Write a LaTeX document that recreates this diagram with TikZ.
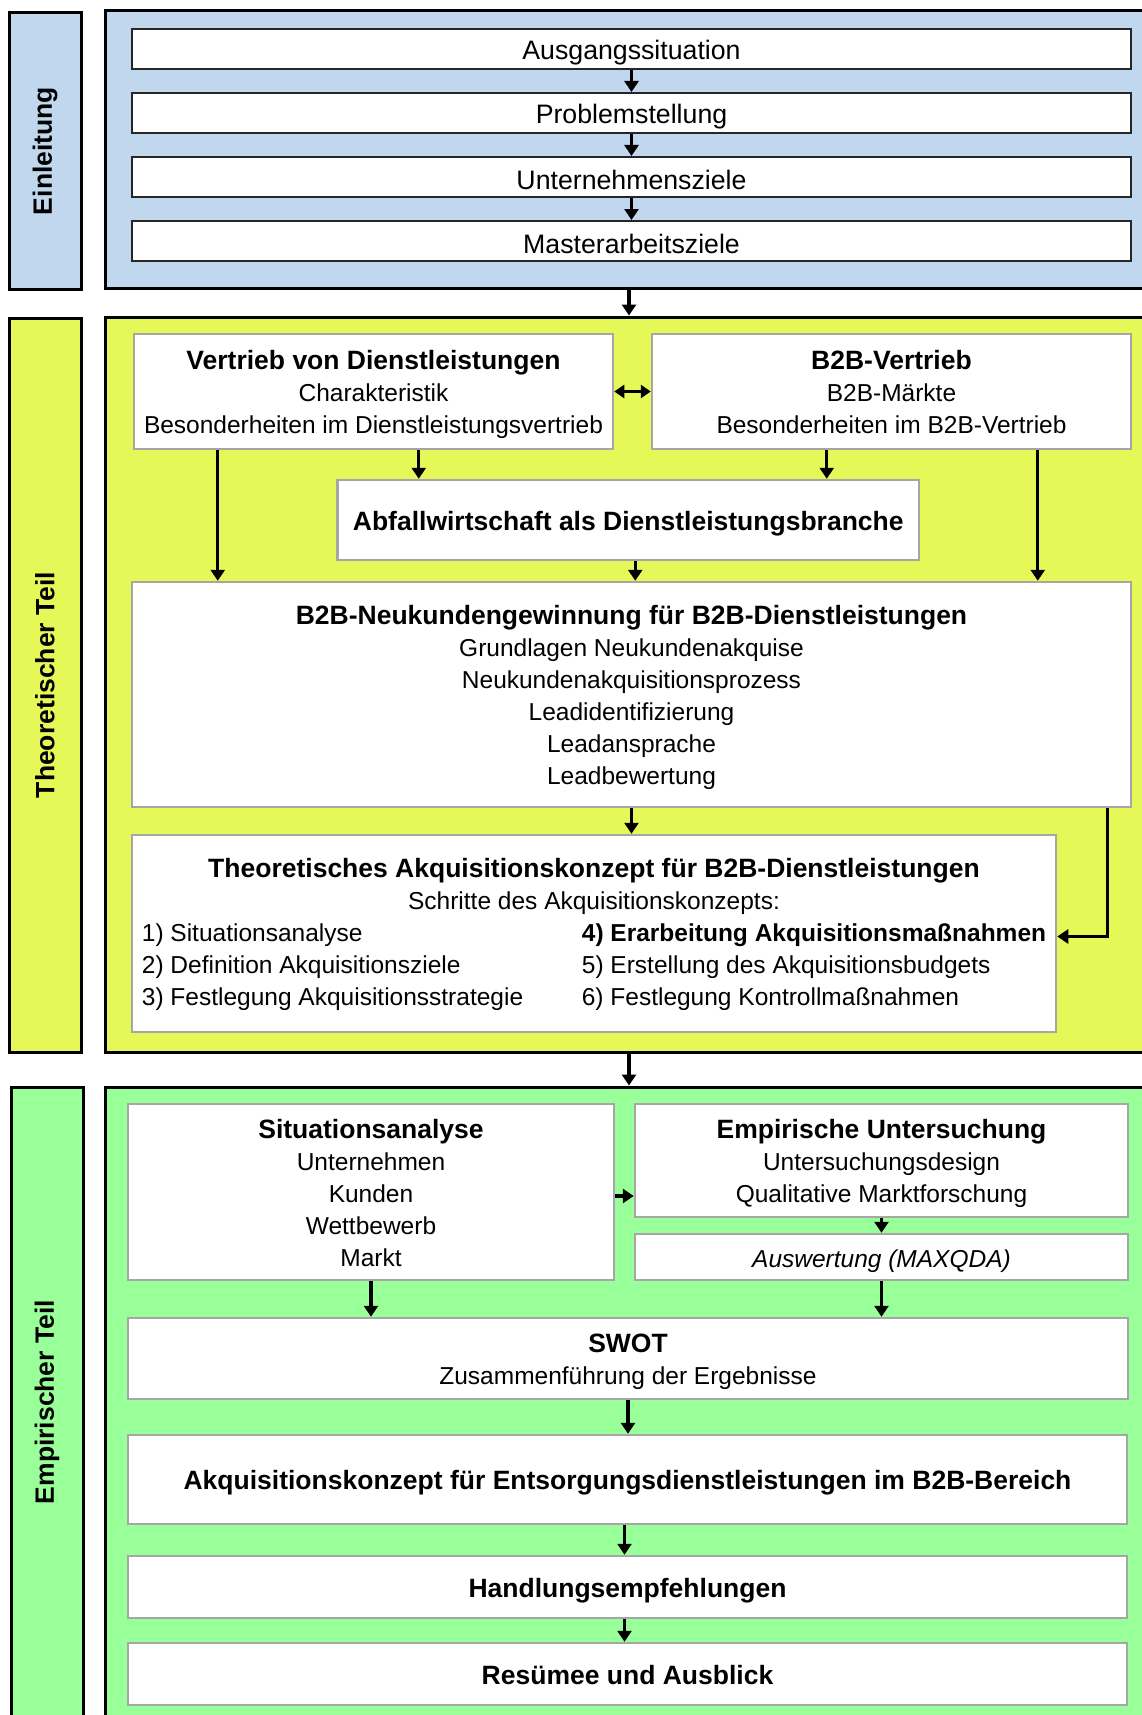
\documentclass[tikz,border=0pt]{standalone}
\usepackage{fontspec}
\setmainfont{Liberation Sans}
\usetikzlibrary{arrows.meta}

\definecolor{introblue}{RGB}{192,215,238}
\definecolor{theoyellow}{RGB}{230,247,88}
\definecolor{empgreen}{RGB}{153,255,153}
\definecolor{boxgray}{RGB}{166,166,166}

% invisible strut that lowers the text block a little inside its box
\newcommand{\lowerstrut}{\rule{0pt}{26pt}}
% invisible descender for last lines without one
\newcommand{\lowdepth}{\rule[-5.2pt]{0pt}{5.2pt}}
\newcommand{\boxtitle}[1]{{\lowerstrut\fontsize{26.5}{32}\selectfont\bfseries #1}}

\begin{document}
\begin{tikzpicture}[x=1pt,y=-1pt,
  frame/.style={draw=black, line width=3pt, inner sep=0pt},
  sidebox/.style={draw=black, line width=3pt, inner sep=0pt, rotate=90,
    font=\fontsize{26.5}{32}\selectfont\bfseries},
  introbox/.style={draw=black!85, line width=2pt, fill=white, inner sep=0pt,
    minimum width=999pt, minimum height=40pt,
    font=\fontsize{26.7}{32}\selectfont,
    execute at begin node=\lowerstrut},
  gbox/.style={draw=boxgray, line width=2.5pt, fill=white, inner sep=0pt,
    align=center, font=\fontsize{24.5}{32}\selectfont},
  arr/.style={line width=3.2pt, -{Triangle[length=11pt,width=14pt]}},
  twoway/.style={line width=3.2pt,
    {Triangle[length=10pt,width=13pt]}-{Triangle[length=10pt,width=13pt]}}
]
\useasboundingbox (0,0) rectangle (1142,1715);
\clip (0,0) rectangle (1142,1715);

% ---------- Einleitung ----------
\node[sidebox, fill=introblue, minimum width=276pt, minimum height=72pt]
  (sI) at (45,151) {Einleitung};
\node[frame, fill=introblue, minimum width=1048pt, minimum height=277pt]
  (pI) at (629,149.5) {};

\node[introbox] (a1) at (631.5,49)  {Ausgangssituation};
\node[introbox] (a2) at (631.5,113) {Problemstellung};
\node[introbox] (a3) at (631.5,177) {Unternehmensziele};
\node[introbox] (a4) at (631.5,241) {Masterarbeitsziele};
\draw[arr] (a1) -- (a2);
\draw[arr] (a2) -- (a3);
\draw[arr] (a3) -- (a4);

% ---------- Theoretischer Teil ----------
\node[sidebox, fill=theoyellow, minimum width=734pt, minimum height=72pt]
  (sT) at (45,685) {Theoretischer Teil};
\node[frame, fill=theoyellow, minimum width=1048pt, minimum height=735pt]
  (pT) at (629,684.5) {};
\draw[arr] (pI.south) -- (pT.north);

\node[gbox, minimum width=479pt, minimum height=115pt] (vdl) at (373.5,391.5)
  {\boxtitle{Vertrieb von Dienstleistungen}\\
   Charakteristik\\
   Besonderheiten im Dienstleistungsvertrieb};
\node[gbox, minimum width=479pt, minimum height=115pt] (b2b) at (891.5,391.5)
  {\boxtitle{B2B-Vertrieb}\\
   B2B-Märkte\\
   Besonderheiten im B2B-Vertrieb\lowdepth};
\node[gbox, minimum width=581.5pt, minimum height=80pt] (abf) at (628.25,520)
  {\boxtitle{Abfallwirtschaft als Dienstleistungsbranche}};
\node[gbox, minimum width=999pt, minimum height=225pt] (neuk) at (631.5,694.5)
  {\boxtitle{B2B-Neukundengewinnung für B2B-Dienstleistungen}\\
   Grundlagen Neukundenakquise\\
   Neukundenakquisitionsprozess\\
   Leadidentifizierung\\
   Leadansprache\\
   Leadbewertung};
\node[gbox, minimum width=924pt, minimum height=197pt] (theo) at (594,933.5)
  {\boxtitle{Theoretisches Akquisitionskonzept für B2B-Dienstleistungen}\\
   Schritte des Akquisitionskonzepts:\\
   \begin{tabular}[t]{@{}p{440pt}@{}l@{}}
   1) Situationsanalyse & \textbf{4) Erarbeitung Akquisitionsmaßnahmen}\\
   2) Definition Akquisitionsziele & 5) Erstellung des Akquisitionsbudgets\\
   3) Festlegung Akquisitionsstrategie & 6) Festlegung Kontrollmaßnahmen
   \end{tabular}};

\draw[twoway] (vdl.east) -- (b2b.west);
\draw[arr] ([xshift=85pt]vdl.south west) -- ([xshift=85pt]vdl.south west |- neuk.north);
\draw[arr] ([xshift=286pt]vdl.south west) -- ([xshift=286pt]vdl.south west |- abf.north);
\draw[arr] ([xshift=176pt]b2b.south west) -- ([xshift=176pt]b2b.south west |- abf.north);
\draw[arr] ([xshift=387pt]b2b.south west) -- ([xshift=387pt]b2b.south west |- neuk.north);
\draw[arr] ([xshift=7pt]abf.south) -- ([xshift=7pt]abf.south |- neuk.north);
\draw[arr] (neuk.south) -- (neuk.south |- theo.north);
\draw[arr] ([xshift=-25pt]neuk.south east) |- ([yshift=-3pt]theo.east);

% ---------- Empirischer Teil ----------
\node[sidebox, fill=empgreen, minimum width=630pt, minimum height=72pt]
  (sE) at (47,1402) {Empirischer Teil};
\node[frame, fill=empgreen, minimum width=1048pt, minimum height=643pt]
  (pE) at (629,1408.5) {};
\draw[arr] (pT.south) -- (pE.north);

\node[gbox, minimum width=486pt, minimum height=176pt] (sit) at (371,1192)
  {\boxtitle{Situationsanalyse}\\
   Unternehmen\\
   Kunden\\
   Wettbewerb\\
   Markt\lowdepth};
\node[gbox, minimum width=493pt, minimum height=113pt] (emp) at (881.5,1160.5)
  {\boxtitle{Empirische Untersuchung}\\
   Untersuchungsdesign\\
   Qualitative Marktforschung};
\node[gbox, minimum width=493pt, minimum height=46pt] (ausw) at (881.5,1257)
  {\lowerstrut\textit{Auswertung (MAXQDA)}};
\node[gbox, minimum width=1000pt, minimum height=81pt] (swot) at (628,1358.5)
  {\boxtitle{SWOT}\\
   Zusammenführung der Ergebnisse};
\node[gbox, minimum width=999pt, minimum height=89pt] (akq) at (627.5,1479.5)
  {\boxtitle{Akquisitionskonzept für Entsorgungsdienstleistungen im B2B-Bereich}};
\node[gbox, minimum width=999pt, minimum height=62pt] (hand) at (627.5,1587)
  {\boxtitle{Handlungsempfehlungen}};
\node[gbox, minimum width=999pt, minimum height=62pt] (res) at (627.5,1674)
  {\boxtitle{Resümee und Ausblick}\lowdepth};

\draw[arr] ([yshift=-4pt]sit.east) -- ([yshift=-4pt]sit.east -| emp.west);
\draw[arr] (emp.south) -- (ausw.north);
\draw[arr] (sit.south) -- (sit.south |- swot.north);
\draw[arr] (ausw.south) -- (ausw.south |- swot.north);
\draw[arr] (swot.south) -- (swot.south |- akq.north);
\draw[arr] ([xshift=-3pt]akq.south) -- ([xshift=-3pt]akq.south |- hand.north);
\draw[arr] ([xshift=-3pt]hand.south) -- ([xshift=-3pt]hand.south |- res.north);
\end{tikzpicture}
\end{document}
